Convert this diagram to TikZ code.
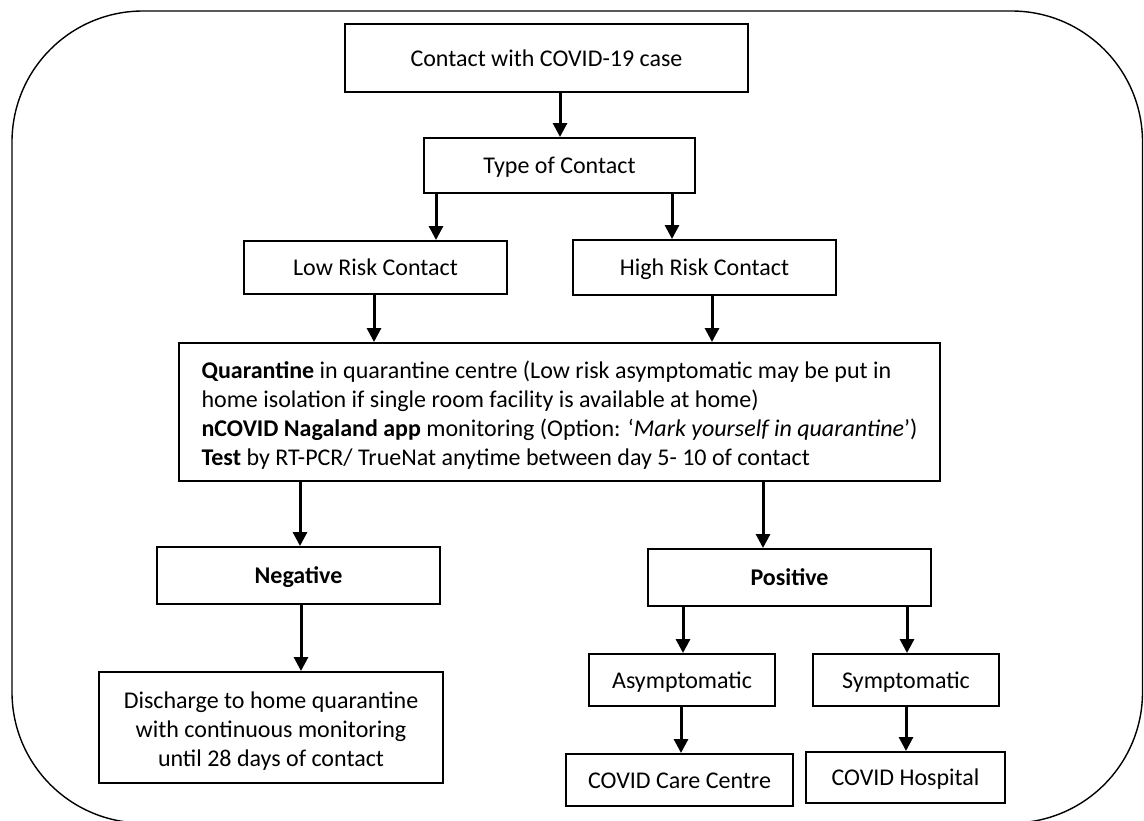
\documentclass[tikz,border=0pt]{standalone}
\usepackage{fontspec}
\setmainfont{Carlito}
\usetikzlibrary{arrows.meta}
\tikzset{
  box/.style={draw, line width=1pt, inner sep=0pt, align=center,
    font=\fontsize{12pt}{14.5pt}\selectfont},
  one/.style={box, text height=10pt, text depth=2pt},
  arr/.style={line width=1.5pt, -{Triangle[width=7pt,length=7pt]}},
  frame/.style={line width=0.7pt, rounded corners=65.5pt}
}
\begin{document}
\begin{tikzpicture}[x=0.5pt,y=-0.5pt]
\useasboundingbox (0,0) rectangle (1144,820);
\clip (0,0) rectangle (1144,820);
\draw[frame] (12,11) rectangle (1142.5,823);

\node[one, minimum width=201.5pt, minimum height=34pt] (b1) at (546.5,58) {Contact with COVID-19 case};
\node[one, minimum width=135.5pt, minimum height=27.5pt] (b2) at (559.5,165.5) {Type of Contact};
\node[one, minimum width=131.5pt, minimum height=26.5pt] (low) at (375.5,267.5) {Low Risk Contact};
\node[one, minimum width=131.5pt, minimum height=27.5pt] (high) at (704.5,267.5) {High Risk Contact};
\node[box, minimum width=380.5pt, minimum height=69pt, align=left] (big) at (559.5,412)
  {\rule{0pt}{12pt}\textbf{Quarantine} in quarantine centre (Low risk asymptomatic may be put in\\
   home isolation if single room facility is available at home)\\
   \textbf{nCOVID Nagaland app} monitoring (Option: ‘\textit{Mark yourself in quarantine}’)\\
   \textbf{Test} by RT-PCR/ TrueNat anytime between day 5- 10 of contact};
\node[one, minimum width=141.5pt, minimum height=28.5pt] (neg) at (298.5,575.5) {\textbf{Negative}};
\node[one, minimum width=141.5pt, minimum height=28.5pt] (pos) at (789.5,577.5) {\textbf{Positive}};
\node[box, minimum width=172pt, minimum height=55.5pt] (dis) at (271,727.5)
  {\rule{0pt}{12pt}Discharge to home quarantine\\with continuous monitoring\\until 28 days of contact};
\node[one, minimum width=93pt, minimum height=26pt] (asym) at (682,680) {Asymptomatic};
\node[one, minimum width=93pt, minimum height=26pt] (sym) at (906,680) {Symptomatic};
\node[one, minimum width=113.5pt, minimum height=26pt] (ccc) at (679.5,780) {COVID Care Centre};
\node[one, minimum width=99.5pt, minimum height=25.5pt] (hosp) at (905.5,777.5) {COVID Hospital};

\draw[arr] (b1.south -| 560,0) -- (b2.north -| 560,0);
\draw[arr] (b2.south -| 436,0) -- (low.north -| 436,0);
\draw[arr] (b2.south -| 672,0) -- (high.north -| 672,0);
\draw[arr] (low.south -| 374,0) -- (big.north -| 374,0);
\draw[arr] (high.south -| 712,0) -- (big.north -| 712,0);
\draw[arr] (big.south -| 300,0) -- (neg.north -| 300,0);
\draw[arr] (big.south -| 763,0) -- (pos.north -| 763,0);
\draw[arr] (neg.south -| 301,0) -- (dis.north -| 301,0);
\draw[arr] (pos.south -| 683,0) -- (asym.north -| 683,0);
\draw[arr] (pos.south -| 907,0) -- (sym.north -| 907,0);
\draw[arr] (asym.south -| 681,0) -- (ccc.north -| 681,0);
\draw[arr] (sym.south -| 906,0) -- (hosp.north -| 906,0);
\end{tikzpicture}
\end{document}
